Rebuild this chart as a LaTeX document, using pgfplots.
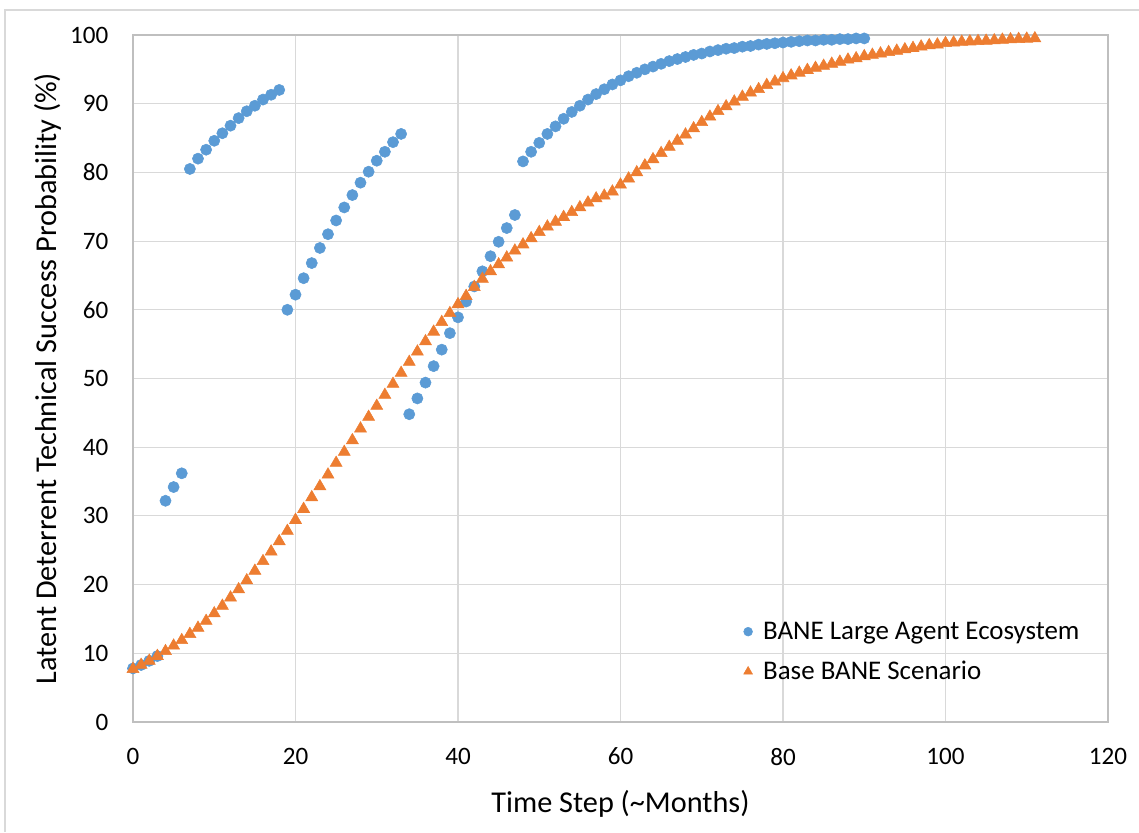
\documentclass[border=0pt]{standalone}
\usepackage{pgfplots}
\pgfplotsset{compat=1.18}
\usepackage{fontspec}
\setmainfont{Carlito}

\definecolor{xlblue}{HTML}{5B9BD5}
\definecolor{xlorange}{HTML}{ED7D31}
\definecolor{gridgray}{HTML}{D9D9D9}
\definecolor{axgray}{HTML}{BFBFBF}

% scale: 1 px of the reference = 0.75pt
\begin{document}
\begin{tikzpicture}
    \useasboundingbox (0,0) rectangle (854.25pt,624pt);
    \draw[gridgray, line width=1pt] (3.75pt,0) -- (3.75pt,616.5pt) -- (854.25pt,616.5pt);

    \begin{axis}[%
        at={(99.75pt,82.5pt)},
        anchor=south west,
        width=731.25pt,
        height=515.25pt,
        scale only axis,
        xmin=0, xmax=120,
        ymin=0, ymax=100,
        xtick={0,20,...,120},
        ytick={0,10,...,100},
        grid=major,
        major grid style={line width=0.8pt, draw=gridgray},
        axis line style={line width=0.8pt, draw=axgray},
        tick style={draw=none},
        tick label style={font=\fontsize{18.8}{22}\selectfont},
        /pgf/number format/assume math mode=true,
        xticklabel style={yshift=-16pt},
        yticklabel style={xshift=-15pt},
        xlabel={Time Step (\char`\~Months)},
        ylabel={Latent Deterrent Technical Success Probability (\%)},
        label style={font=\fontsize{22.7}{27}\selectfont},
        xlabel style={yshift=-12pt},
        ylabel style={yshift=0pt},
        legend cell align=left,
        legend style={
            at={(0.622,0.102)}, anchor=west,
            draw=none, fill=none,
            font=\fontsize{20.2}{24}\selectfont,
            row sep=11pt,
            /tikz/every odd column/.append style={column sep=6pt},
        },
        legend image code/.code={\draw plot coordinates {(0.15cm,0cm)};},
    ]
    \addplot[only marks, mark=*, mark size=4.2pt, color=xlblue,
        legend image post style={mark size=3.3pt}] coordinates {
        (0,7.8) (1,8.3) (2,8.9) (3,9.6)
        (4,32.2) (5,34.2) (6,36.2)
        (7,80.5) (8,82.0) (9,83.3) (10,84.6) (11,85.7) (12,86.8) (13,87.9)
        (14,88.9) (15,89.7) (16,90.6) (17,91.3) (18,92.0)
        (19,60.0) (20,62.2) (21,64.6) (22,66.8) (23,69.0) (24,71.0) (25,73.0)
        (26,74.9) (27,76.7) (28,78.5) (29,80.1) (30,81.7) (31,83.0) (32,84.4)
        (33,85.6)
        (34,44.8) (35,47.1) (36,49.4) (37,51.8) (38,54.2) (39,56.6) (40,58.9)
        (41,61.2) (42,63.4) (43,65.6) (44,67.8) (45,69.9) (46,71.9) (47,73.8)
        (48,81.6) (49,83.0) (50,84.3) (51,85.6) (52,86.7) (53,87.8) (54,88.8)
        (55,89.7) (56,90.6) (57,91.4) (58,92.1) (59,92.8) (60,93.4) (61,94.0)
        (62,94.5) (63,95.0) (64,95.4) (65,95.8) (66,96.2) (67,96.5) (68,96.8)
        (69,97.1) (70,97.3) (71,97.6) (72,97.8) (73,98.0) (74,98.1) (75,98.3)
        (76,98.4) (77,98.6) (78,98.7) (79,98.8) (80,98.9) (81,99.0) (82,99.1)
        (83,99.2) (84,99.2) (85,99.3) (86,99.3) (87,99.4) (88,99.4) (89,99.5)
        (90,99.5)
    };
    \addlegendentry{BANE Large Agent Ecosystem}

    \addplot[only marks, mark=triangle*, mark size=5.2pt, color=xlorange,
        legend image post style={mark size=3.8pt}] coordinates {
        (0,7.7) (1,8.3) (2,8.9) (3,9.6) (4,10.3) (5,11.1) (6,11.9) (7,12.8)
        (8,13.7) (9,14.7) (10,15.8) (11,16.9) (12,18.1) (13,19.3) (14,20.6)
        (15,22.0) (16,23.4) (17,24.8) (18,26.3) (19,27.8) (20,29.4) (21,31.0)
        (22,32.7) (23,34.3) (24,36.0) (25,37.7) (26,39.3) (27,41.0) (28,42.7)
        (29,44.4) (30,46.0) (31,47.6) (32,49.2) (33,50.8) (34,52.4) (35,53.9)
        (36,55.4) (37,56.8) (38,58.2) (39,59.5) (40,60.8) (41,62.0) (42,63.3)
        (43,64.5) (44,65.6) (45,66.6) (46,67.6) (47,68.6) (48,69.5) (49,70.4)
        (50,71.3) (51,72.1) (52,72.8) (53,73.5) (54,74.2) (55,74.9) (56,75.6)
        (57,76.2) (58,76.6) (59,77.2) (60,78.2) (61,79.1) (62,80.0) (63,81.0)
        (64,81.9) (65,82.8) (66,83.7) (67,84.6) (68,85.5) (69,86.4) (70,87.3)
        (71,88.1) (72,88.9) (73,89.6) (74,90.3) (75,91.0) (76,91.6) (77,92.1)
        (78,92.7) (79,93.2) (80,93.7) (81,94.1) (82,94.5) (83,94.9) (84,95.2)
        (85,95.5) (86,95.8) (87,96.1) (88,96.4) (89,96.6) (90,96.9) (91,97.1)
        (92,97.3) (93,97.5) (94,97.7) (95,97.9) (96,98.1) (97,98.3) (98,98.5)
        (99,98.6) (100,98.8) (101,98.9) (102,99.0) (103,99.05) (104,99.1)
        (105,99.15) (106,99.2) (107,99.3) (108,99.35) (109,99.4) (110,99.45)
        (111,99.5)
    };
    \addlegendentry{Base BANE Scenario}
    \end{axis}
\end{tikzpicture}
\end{document}
